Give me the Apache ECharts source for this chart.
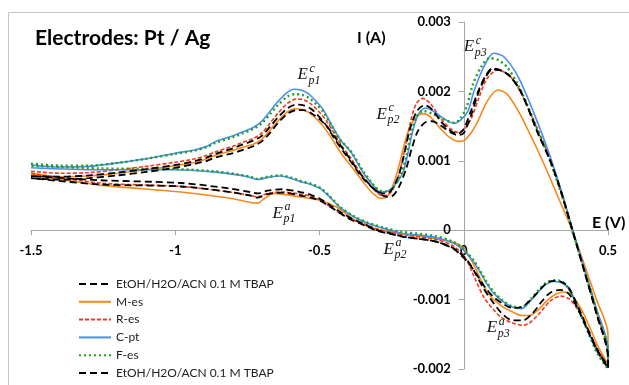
<!DOCTYPE html>
<html><head><meta charset="utf-8">
<script src="https://cdn.jsdelivr.net/npm/echarts@6/dist/echarts.min.js"></script>
<style>html,body{margin:0;padding:0;background:#fff}#c{width:629px;height:385px}</style>
</head><body><div id="c"></div>
<script>
// ---- Data (E in V, I in A); forward sweep -1.5 -> 0.5, reverse 0.5 -> -1.5 ----
const seriesNames = ['EtOH/H2O/ACN 0.1 M TBAP', 'M-es', 'R-es', 'C-pt', 'F-es', 'EtOH/H2O/ACN 0.1 M TBAP '];
const xTickLabels = ['-1.5', '-1', '-0.5', '0', '0.5'];
const yTickLabels = ['-0.002', '-0.001', '0', '0.001', '0.002', '0.003'];

const tbap1Fwd = [[-1.5,0.00078],[-1.4,0.00077],[-1.3,0.00079],[-1.2,0.00083],[-1.1,0.00088],[-1.0,0.00094],[-0.93,0.001],[-0.89,0.00105],[-0.86,0.0011],[-0.8,0.00118],[-0.77,0.00123],[-0.73,0.00129],[-0.7,0.00136],[-0.67,0.0015],[-0.645,0.00162],[-0.61,0.00176],[-0.58,0.00181],[-0.555,0.0018],[-0.53,0.00175],[-0.5,0.00163],[-0.475,0.0015],[-0.45,0.00133],[-0.42,0.00115],[-0.39,0.00098],[-0.35,0.00075],[-0.31,0.00059],[-0.29,0.00054],[-0.27,0.00053],[-0.25,0.00058],[-0.225,0.0008],[-0.205,0.00112],[-0.185,0.00148],[-0.16,0.00173],[-0.135,0.0018],[-0.11,0.00174],[-0.08,0.00157],[-0.045,0.00143],[-0.02,0.00139],[0.0,0.00146],[0.025,0.00172],[0.05,0.002],[0.075,0.00222],[0.1,0.00233],[0.13,0.0023],[0.16,0.00222],[0.2,0.00198],[0.257,0.0014],[0.3,0.001],[0.337,0.00056],[0.378,-0.00002],[0.42,-0.00062],[0.46,-0.0012],[0.5,-0.00183]];
const tbap1Rev = [[0.5,-0.00199],[0.465,-0.00175],[0.43,-0.00145],[0.396,-0.00114],[0.365,-0.00092],[0.335,-0.00086],[0.3,-0.0009],[0.27,-0.00103],[0.24,-0.00119],[0.205,-0.0013],[0.17,-0.0013],[0.13,-0.00119],[0.1,-0.00103],[0.07,-0.00085],[0.035,-0.00058],[0.015,-0.00045],[0.0,-0.00038],[-0.035,-0.00026],[-0.1,-0.00016],[-0.2,-0.0001],[-0.26,-0.00004],[-0.3,0.0],[-0.35,0.0001],[-0.39,0.00017],[-0.427,0.00026],[-0.46,0.00035],[-0.497,0.00045],[-0.53,0.00051],[-0.566,0.00055],[-0.63,0.00059],[-0.68,0.00057],[-0.715,0.00053],[-0.74,0.00055],[-0.81,0.0006],[-0.98,0.00068],[-1.26,0.00072],[-1.5,0.00078]];

const mesFwd = [[-1.5,0.00082],[-1.4,0.00077],[-1.3,0.00078],[-1.2,0.00082],[-1.1,0.00087],[-1.0,0.00093],[-0.93,0.00098],[-0.89,0.00103],[-0.86,0.00108],[-0.8,0.00115],[-0.77,0.00119],[-0.73,0.00124],[-0.7,0.00131],[-0.67,0.00145],[-0.645,0.00157],[-0.61,0.00171],[-0.585,0.00175],[-0.56,0.00174],[-0.535,0.00169],[-0.505,0.00158],[-0.48,0.00146],[-0.45,0.00127],[-0.42,0.00108],[-0.39,0.00092],[-0.35,0.0007],[-0.32,0.00055],[-0.3,0.00048],[-0.285,0.00046],[-0.265,0.00049],[-0.245,0.00065],[-0.225,0.00092],[-0.205,0.00125],[-0.185,0.0015],[-0.16,0.00165],[-0.14,0.00168],[-0.115,0.00163],[-0.08,0.00146],[-0.05,0.00134],[-0.02,0.00128],[0.0,0.00129],[0.025,0.0014],[0.05,0.00158],[0.08,0.00185],[0.118,0.00202],[0.15,0.00196],[0.19,0.00171],[0.222,0.00145],[0.26,0.00112],[0.292,0.00082],[0.335,0.0004],[0.372,0.00004],[0.42,-0.00052],[0.46,-0.001],[0.5,-0.0015]];
const mesRev = [[0.5,-0.00193],[0.465,-0.00167],[0.435,-0.00138],[0.406,-0.00113],[0.375,-0.00094],[0.347,-0.00089],[0.32,-0.00092],[0.29,-0.00101],[0.26,-0.00114],[0.226,-0.00123],[0.2,-0.00123],[0.17,-0.00118],[0.13,-0.00109],[0.094,-0.00096],[0.07,-0.00081],[0.049,-0.00062],[0.025,-0.00042],[0.01,-0.00032],[-0.02,-0.0002],[-0.1,-0.00012],[-0.2,-0.00006],[-0.26,-0.00002],[-0.3,0.00001],[-0.36,0.0001],[-0.4,0.00021],[-0.44,0.00033],[-0.497,0.00043],[-0.566,0.00048],[-0.63,0.00052],[-0.66,0.00053],[-0.69,0.00046],[-0.715,0.00039],[-0.74,0.0004],[-0.81,0.00046],[-0.98,0.00055],[-1.26,0.00065],[-1.5,0.0008]];

const resFwd = [[-1.5,0.00085],[-1.4,0.00082],[-1.3,0.00083],[-1.2,0.00087],[-1.1,0.00092],[-1.0,0.00098],[-0.93,0.00103],[-0.89,0.00108],[-0.86,0.00113],[-0.8,0.00121],[-0.77,0.00126],[-0.73,0.00132],[-0.7,0.0014],[-0.67,0.00155],[-0.645,0.00168],[-0.61,0.00183],[-0.58,0.00189],[-0.555,0.00188],[-0.53,0.00182],[-0.5,0.0017],[-0.475,0.00157],[-0.45,0.0014],[-0.42,0.0012],[-0.39,0.00103],[-0.35,0.00078],[-0.31,0.00058],[-0.29,0.00051],[-0.27,0.0005],[-0.25,0.00056],[-0.225,0.0008],[-0.205,0.00115],[-0.185,0.00155],[-0.165,0.00182],[-0.142,0.0019],[-0.115,0.00182],[-0.08,0.00161],[-0.045,0.00146],[-0.02,0.00141],[0.0,0.00145],[0.025,0.0016],[0.05,0.00188],[0.08,0.00218],[0.118,0.00231],[0.16,0.00222],[0.198,0.00198],[0.257,0.00144],[0.3,0.00102],[0.337,0.00058],[0.378,0.0],[0.42,-0.0006],[0.46,-0.00118],[0.5,-0.0018]];
const resRev = [[0.5,-0.00196],[0.465,-0.00172],[0.43,-0.00143],[0.396,-0.00115],[0.365,-0.00099],[0.337,-0.00095],[0.3,-0.00102],[0.26,-0.00121],[0.23,-0.00133],[0.208,-0.00137],[0.165,-0.00133],[0.128,-0.00125],[0.1,-0.00113],[0.07,-0.00097],[0.035,-0.00066],[0.015,-0.00047],[0.0,-0.00037],[-0.035,-0.00023],[-0.1,-0.00013],[-0.2,-0.00007],[-0.26,-0.00002],[-0.3,0.00002],[-0.35,0.0001],[-0.39,0.00016],[-0.427,0.00024],[-0.46,0.00033],[-0.497,0.00043],[-0.53,0.00049],[-0.566,0.00052],[-0.63,0.00055],[-0.68,0.00053],[-0.715,0.00048],[-0.74,0.0005],[-0.81,0.00055],[-0.98,0.00063],[-1.26,0.00068],[-1.5,0.00082]];

const cptFwd = [[-1.5,0.00094],[-1.4,0.00091],[-1.3,0.00092],[-1.2,0.00097],[-1.1,0.00103],[-1.0,0.00111],[-0.93,0.00116],[-0.89,0.00121],[-0.86,0.00128],[-0.8,0.00136],[-0.77,0.00141],[-0.73,0.00148],[-0.7,0.00157],[-0.67,0.00172],[-0.645,0.00185],[-0.61,0.00199],[-0.59,0.00203],[-0.565,0.00202],[-0.54,0.00197],[-0.51,0.00185],[-0.486,0.00173],[-0.46,0.00153],[-0.427,0.0013],[-0.39,0.00112],[-0.347,0.00082],[-0.31,0.00063],[-0.288,0.00055],[-0.265,0.00056],[-0.243,0.00063],[-0.212,0.00082],[-0.194,0.0011],[-0.177,0.00143],[-0.156,0.00168],[-0.132,0.00176],[-0.1,0.0017],[-0.07,0.00161],[-0.035,0.00154],[-0.01,0.00159],[0.015,0.00172],[0.035,0.002],[0.069,0.00235],[0.104,0.00255],[0.139,0.0025],[0.19,0.0022],[0.243,0.00169],[0.292,0.00115],[0.337,0.00058],[0.378,0.0],[0.42,-0.00058],[0.46,-0.00113],[0.5,-0.00172]];
const cptRev = [[0.5,-0.00197],[0.465,-0.00177],[0.43,-0.00144],[0.396,-0.00111],[0.361,-0.00083],[0.335,-0.00075],[0.31,-0.00074],[0.285,-0.00078],[0.26,-0.00088],[0.233,-0.00101],[0.2,-0.00113],[0.17,-0.00111],[0.14,-0.00104],[0.104,-0.00091],[0.08,-0.00077],[0.059,-0.00062],[0.035,-0.00046],[0.015,-0.00036],[0.0,-0.00029],[-0.035,-0.00019],[-0.104,-0.0001],[-0.22,-0.00004],[-0.28,0.00003],[-0.333,0.0001],[-0.38,0.00019],[-0.427,0.00032],[-0.465,0.00048],[-0.497,0.0006],[-0.53,0.00066],[-0.566,0.0007],[-0.6,0.00075],[-0.635,0.00078],[-0.68,0.00076],[-0.715,0.00073],[-0.74,0.00076],[-0.774,0.00079],[-0.87,0.00084],[-1.0,0.00087],[-1.26,0.00087],[-1.5,0.0009]];

const fesFwd = [[-1.5,0.00096],[-1.4,0.00093],[-1.3,0.00093],[-1.2,0.00097],[-1.1,0.00103],[-1.0,0.0011],[-0.93,0.00115],[-0.89,0.0012],[-0.86,0.00126],[-0.8,0.00134],[-0.77,0.00139],[-0.73,0.00146],[-0.7,0.00154],[-0.67,0.00168],[-0.645,0.0018],[-0.61,0.00193],[-0.585,0.00196],[-0.56,0.00195],[-0.535,0.0019],[-0.51,0.00181],[-0.486,0.0017],[-0.46,0.00152],[-0.427,0.0013],[-0.39,0.00113],[-0.347,0.00084],[-0.31,0.00064],[-0.29,0.00057],[-0.27,0.00056],[-0.248,0.0006],[-0.22,0.00078],[-0.2,0.00105],[-0.182,0.0014],[-0.162,0.00164],[-0.14,0.00172],[-0.11,0.00168],[-0.07,0.0016],[-0.035,0.00155],[-0.015,0.00159],[0.01,0.00178],[0.03,0.00208],[0.06,0.00235],[0.09,0.00248],[0.12,0.00245],[0.15,0.00235],[0.19,0.00208],[0.243,0.00158],[0.292,0.00108],[0.337,0.00054],[0.378,-0.00003],[0.42,-0.0006],[0.46,-0.00116],[0.5,-0.00176]];
const fesRev = [[0.5,-0.002],[0.465,-0.00179],[0.43,-0.00146],[0.396,-0.00112],[0.361,-0.00082],[0.335,-0.00073],[0.31,-0.00072],[0.285,-0.00076],[0.26,-0.00086],[0.233,-0.00099],[0.2,-0.00111],[0.17,-0.0011],[0.14,-0.00103],[0.104,-0.00089],[0.08,-0.00075],[0.059,-0.0006],[0.035,-0.00044],[0.015,-0.00034],[0.0,-0.00027],[-0.035,-0.00017],[-0.104,-0.00008],[-0.22,-0.00002],[-0.28,0.00004],[-0.333,0.00011],[-0.38,0.0002],[-0.427,0.00033],[-0.465,0.00049],[-0.497,0.00061],[-0.53,0.00067],[-0.566,0.00071],[-0.6,0.00076],[-0.635,0.00079],[-0.68,0.00077],[-0.715,0.00074],[-0.74,0.00077],[-0.774,0.0008],[-0.87,0.00085],[-1.0,0.00088],[-1.26,0.00089],[-1.5,0.00093]];

const tbap2Fwd = [[-1.5,0.00075],[-1.4,0.00073],[-1.3,0.00075],[-1.2,0.00079],[-1.1,0.00084],[-1.0,0.0009],[-0.93,0.00096],[-0.89,0.001],[-0.86,0.00105],[-0.8,0.00111],[-0.77,0.00115],[-0.73,0.00121],[-0.7,0.00128],[-0.67,0.00141],[-0.645,0.00154],[-0.61,0.00168],[-0.58,0.00173],[-0.555,0.00173],[-0.53,0.00169],[-0.5,0.0016],[-0.475,0.0015],[-0.45,0.00136],[-0.42,0.00118],[-0.39,0.001],[-0.35,0.00077],[-0.31,0.00059],[-0.285,0.00051],[-0.265,0.00048],[-0.245,0.0005],[-0.225,0.00062],[-0.2,0.00088],[-0.18,0.00118],[-0.16,0.00142],[-0.135,0.00155],[-0.11,0.00157],[-0.08,0.00151],[-0.045,0.00141],[-0.02,0.00137],[0.0,0.0014],[0.025,0.00165],[0.05,0.00197],[0.075,0.0022],[0.1,0.00232],[0.13,0.0023],[0.16,0.00222],[0.2,0.00198],[0.257,0.0014],[0.3,0.001],[0.337,0.00056],[0.378,-0.00002],[0.42,-0.00062],[0.46,-0.0012],[0.5,-0.00185]];
const tbap2Rev = [[0.5,-0.00196],[0.465,-0.00174],[0.43,-0.00142],[0.396,-0.0011],[0.361,-0.00081],[0.335,-0.00074],[0.31,-0.00073],[0.285,-0.00077],[0.26,-0.00088],[0.23,-0.00101],[0.2,-0.00111],[0.17,-0.00112],[0.14,-0.00107],[0.1,-0.00095],[0.07,-0.0008],[0.045,-0.00064],[0.02,-0.00049],[0.0,-0.0004],[-0.035,-0.00027],[-0.1,-0.00016],[-0.2,-0.0001],[-0.26,-0.00005],[-0.3,-0.00001],[-0.35,0.00008],[-0.39,0.00015],[-0.427,0.00024],[-0.46,0.00033],[-0.497,0.00042],[-0.53,0.00047],[-0.566,0.0005],[-0.63,0.00054],[-0.68,0.00052],[-0.715,0.00047],[-0.74,0.0005],[-0.81,0.00055],[-0.98,0.00063],[-1.26,0.00066],[-1.5,0.00075]];

// Peak annotations (label anchor in data coords)
const annSub = ['p1', 'p2', 'p3', 'p1', 'p2', 'p3'];
const annSup = ['c', 'c', 'c', 'a', 'a', 'a'];
const annE = [-0.576, -0.302, 0.0, -0.663, -0.278, 0.080];
const annI = [0.00224, 0.00167, 0.00264, 0.000245, -0.000274, -0.0014];

// ---- Chart ----
const W = 629, H = 385;
const gridBox = {left: 31, right: 21, top: 22, bottom: 16};
const xMin = -1.5, xMax = 0.5, yMin = -0.002, yMax = 0.003;
const plotW = W - gridBox.left - gridBox.right;
const plotH = H - gridBox.top - gridBox.bottom;
// Axes cross at the origin: shift each axis from its grid edge to the other axis' zero
const xAxisOffset = -plotH * (0 - yMin) / (yMax - yMin);
const yAxisOffset = -plotW * (0 - xMin) / (xMax - xMin);

const chart = echarts.init(document.getElementById('c'), null, {renderer: 'canvas'});
const axisGray = '#a6a6a6';
const labelFont = {fontFamily: 'Lato', fontWeight: 'bold', fontSize: 13, color: '#000'};
const findLabel = (list, v) => { const t = list.find(s => Math.abs(parseFloat(s) - v) < 1e-9); return t === undefined ? '' : t; };

const styles = [
  {color: '#000000', width: 1.8, type: [7, 4]},
  {color: '#f7891c', width: 1.6, type: 'solid'},
  {color: '#f23a1d', width: 1.6, type: [4, 2]},
  {color: '#4a8ff0', width: 1.6, type: 'solid'},
  {color: '#1f9e24', width: 2.4, type: [2, 3]},
  {color: '#000000', width: 1.8, type: [7, 4]}
];
const scans = [tbap1Fwd.concat(tbap1Rev), mesFwd.concat(mesRev), resFwd.concat(resRev), cptFwd.concat(cptRev), fesFwd.concat(fesRev), tbap2Fwd.concat(tbap2Rev)];
const drawOrder = [1, 2, 3, 4, 0, 5];

const series = drawOrder.map(i => ({
  name: seriesNames[i],
  type: 'line',
  data: scans[i],
  symbol: 'none',
  showSymbol: false,
  smooth: 0.3,
  lineStyle: {color: styles[i].color, width: styles[i].width, type: styles[i].type},
  itemStyle: {color: styles[i].color},
  emphasis: {disabled: true},
  z: 2
}));

chart.setOption({
  animation: false,
  backgroundColor: '#fff',
  grid: {left: gridBox.left, right: gridBox.right, top: gridBox.top, bottom: gridBox.bottom, containLabel: false, outerBoundsMode: 'none'},
  xAxis: {
    type: 'value', min: xMin, max: xMax, interval: 0.5, position: 'bottom', offset: xAxisOffset,
    axisLine: {onZero: false, lineStyle: {color: axisGray, width: 1}},
    axisTick: {show: true, length: 5, lineStyle: {color: axisGray}},
    splitLine: {show: false},
    axisLabel: Object.assign({margin: 14, formatter: v => findLabel(xTickLabels, v)}, labelFont)
  },
  yAxis: {
    type: 'value', min: yMin, max: yMax, interval: 0.001, position: 'left', offset: yAxisOffset,
    axisLine: {show: true, onZero: false, lineStyle: {color: axisGray, width: 1}},
    axisTick: {show: true, length: 5, lineStyle: {color: axisGray}},
    splitLine: {show: false},
    axisLabel: Object.assign({margin: 13, formatter: v => findLabel(yTickLabels, v)}, labelFont)
  },
  legend: {
    orient: 'vertical', left: 73, top: 273,
    itemWidth: 32, itemHeight: 12, itemGap: 5.8,
    selectedMode: false,
    itemStyle: {opacity: 0},
    textStyle: {fontFamily: 'Lato', fontSize: 12, color: '#222'},
    data: seriesNames
  },
  series: series
});

// Text decorations: frame, title, axis names, peak labels
const graphics = [
  {type: 'rect', silent: true, z: -10, shape: {x: 8.5, y: 12.5, width: 700, height: 500}, style: {fill: 'none', stroke: '#c4c4c4', lineWidth: 1}},
  {type: 'text', silent: true, x: 35, y: 38, style: {text: 'Electrodes: Pt / Ag', font: 'bold 21px Lato', fill: '#000', textVerticalAlign: 'middle'}},
  {type: 'text', silent: true, x: 357, y: 38, style: {text: 'I (A)', font: 'bold 16px Lato', fill: '#000', textVerticalAlign: 'middle'}},
  {type: 'text', silent: true, x: 592, y: 223, style: {text: 'E (V)', font: 'bold 16px Lato', fill: '#000', textVerticalAlign: 'middle'}}
];
for (let k = 0; k < annE.length; k++) {
  const p = chart.convertToPixel({gridIndex: 0}, [annE[k], annI[k]]);
  graphics.push({type: 'text', silent: true, x: p[0], y: p[1], style: {text: 'E', font: 'italic 17px "Liberation Serif"', fill: '#111', textVerticalAlign: 'middle'}});
  graphics.push({type: 'text', silent: true, x: p[0] + 12, y: p[1] - 6, style: {text: annSup[k], font: 'italic 12px "Liberation Serif"', fill: '#111', textVerticalAlign: 'middle'}});
  graphics.push({type: 'text', silent: true, x: p[0] + 11, y: p[1] + 6, style: {text: annSub[k], font: 'italic 12px "Liberation Serif"', fill: '#111', textVerticalAlign: 'middle'}});
}
chart.setOption({graphic: graphics});
</script></body></html>
